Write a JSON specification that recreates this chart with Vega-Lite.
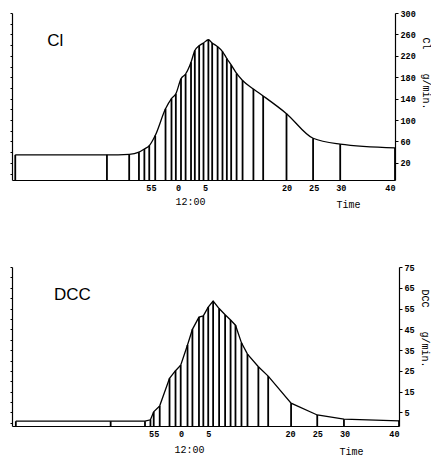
{
  "$schema": "https://vega.github.io/schema/vega-lite/v6.json",
  "background": "white",
  "padding": {"left": 9, "top": 9, "right": 0, "bottom": 0},
  "spacing": 54,
  "datasets": {
    "cl": [
      {"t": -30.0, "v": 35}, {"t": -13.1, "v": 35}, {"t": -9.0, "v": 36}, {"t": -7.2, "v": 40},
      {"t": -6.2, "v": 46}, {"t": -5.3, "v": 52}, {"t": -4.2, "v": 71}, {"t": -2.3, "v": 121},
      {"t": -1.2, "v": 140}, {"t": -0.4, "v": 149}, {"t": 0.55, "v": 177}, {"t": 1.4, "v": 186},
      {"t": 2.4, "v": 208}, {"t": 3.1, "v": 230}, {"t": 3.9, "v": 239}, {"t": 4.7, "v": 244},
      {"t": 5.6, "v": 250}, {"t": 6.3, "v": 244}, {"t": 7.3, "v": 237}, {"t": 8.2, "v": 228},
      {"t": 9.0, "v": 215}, {"t": 9.8, "v": 203}, {"t": 10.8, "v": 187}, {"t": 11.9, "v": 174},
      {"t": 13.9, "v": 158}, {"t": 15.7, "v": 145}, {"t": 20.0, "v": 112}, {"t": 24.9, "v": 66},
      {"t": 29.9, "v": 55}, {"t": 40, "v": 48}
    ],
    "dcc": [
      {"t": -30.3, "v": 0.8}, {"t": -12.9, "v": 0.8}, {"t": -6.6, "v": 0.8}, {"t": -5.6, "v": 1.5},
      {"t": -5.0, "v": 5.3}, {"t": -3.9, "v": 8.2}, {"t": -2.1, "v": 21.4}, {"t": -1.0, "v": 25.1},
      {"t": -0.05, "v": 27.8}, {"t": 1.2, "v": 37.5}, {"t": 2.1, "v": 45}, {"t": 3.3, "v": 50.9},
      {"t": 4.1, "v": 51.5}, {"t": 5.0, "v": 55.7}, {"t": 5.9, "v": 58.6}, {"t": 7.0, "v": 55},
      {"t": 8.1, "v": 52}, {"t": 9.1, "v": 49.5}, {"t": 10.0, "v": 47}, {"t": 11.1, "v": 38.5},
      {"t": 12.2, "v": 33.1}, {"t": 14.2, "v": 27}, {"t": 16.0, "v": 22.5}, {"t": 20.2, "v": 9.5},
      {"t": 25.0, "v": 3.8}, {"t": 29.9, "v": 1.8}, {"t": 40, "v": 1.0}
    ]
  },
  "vconcat": [
    {
      "width": 383,
      "height": 167,
      "layer": [
        {
          "data": {"name": "cl"},
          "mark": {"type": "rule", "color": "black", "strokeWidth": 1.8},
          "encoding": {
            "x": {"field": "t", "type": "quantitative",
              "scale": {"domain": [-30.6, 40], "nice": false, "zero": false},
              "axis": {"orient": "bottom", "values": [-5, 0, 5, 20, 25, 30, 40],
                "labelExpr": "datum.value < 0 ? datum.value + 60 : datum.value",
                "title": "12:00", "titleX": 178, "titleY": 21, "titleAlign": "center", "titleBaseline": "middle",
                "grid": false, "ticks": false, "labelPadding": 3}},
            "y": {"field": "v", "type": "quantitative",
              "scale": {"domain": [-12, 300], "nice": false, "zero": false},
              "axis": {"orient": "right", "values": [20, 60, 100, 140, 180, 220, 260, 300],
                "title": "Cl\u00a0\u00a0\u00a0\u00a0g/min.", "titleY": 60, "titlePadding": 5, "grid": false, "tickSize": 3}},
            "y2": {"datum": -12}
          }
        },
        {
          "data": {"name": "cl"},
          "mark": {"type": "line", "color": "black", "strokeWidth": 1.3, "interpolate": "monotone"},
          "encoding": {
            "x": {"field": "t", "type": "quantitative",
              "axis": {"orient": "bottom", "labels": false, "ticks": false, "domain": false, "grid": false,
                "title": "Time", "titleX": 336, "titleY": 24, "titleAlign": "center", "titleBaseline": "middle"}},
            "y": {"field": "v", "type": "quantitative",
              "axis": {"orient": "left", "labels": false, "tickSize": 2, "grid": false, "title": null, "tickCount": 20}}
          }
        },
        {
          "data": {"values": [{"label": "Cl", "t": -24.1, "v": 248}]},
          "mark": {"type": "text", "align": "left", "baseline": "middle", "fontSize": 17, "font": "Liberation Sans"},
          "encoding": {
            "x": {"field": "t", "type": "quantitative", "axis": null},
            "y": {"field": "v", "type": "quantitative", "axis": null},
            "text": {"field": "label"}
          }
        }
      ],
      "resolve": {"axis": {"x": "independent", "y": "independent"}}
    },
    {
      "width": 387,
      "height": 159,
      "layer": [
        {
          "data": {"name": "dcc"},
          "mark": {"type": "rule", "color": "black", "strokeWidth": 1.8},
          "encoding": {
            "x": {"field": "t", "type": "quantitative",
              "scale": {"domain": [-31, 40], "nice": false, "zero": false},
              "axis": {"orient": "bottom", "values": [-5, 0, 5, 20, 25, 30, 40],
                "labelExpr": "datum.value < 0 ? datum.value + 60 : datum.value",
                "title": "12:00", "titleX": 177, "titleY": 23, "titleAlign": "center", "titleBaseline": "middle",
                "grid": false, "ticks": false, "labelPadding": 3}},
            "y": {"field": "v", "type": "quantitative",
              "scale": {"domain": [-1.5, 75], "nice": false, "zero": false},
              "axis": {"orient": "right", "values": [5, 15, 25, 35, 45, 55, 65, 75],
                "title": "DCC\u00a0\u00a0\u00a0\u00a0g/min.", "titleY": 61, "titlePadding": 5, "grid": false, "tickSize": 3}},
            "y2": {"datum": -1.5}
          }
        },
        {
          "data": {"name": "dcc"},
          "mark": {"type": "line", "color": "black", "strokeWidth": 1.3, "interpolate": "linear"},
          "encoding": {
            "x": {"field": "t", "type": "quantitative",
              "axis": {"orient": "bottom", "labels": false, "ticks": false, "domain": false, "grid": false,
                "title": "Time", "titleX": 339, "titleY": 25, "titleAlign": "center", "titleBaseline": "middle"}},
            "y": {"field": "v", "type": "quantitative",
              "axis": {"orient": "left", "labels": false, "tickSize": 2, "grid": false, "title": null, "tickCount": 20}}
          }
        },
        {
          "data": {"values": [{"label": "DCC", "t": -23.3, "v": 61.6}]},
          "mark": {"type": "text", "align": "left", "baseline": "middle", "fontSize": 17, "font": "Liberation Sans"},
          "encoding": {
            "x": {"field": "t", "type": "quantitative", "axis": null},
            "y": {"field": "v", "type": "quantitative", "axis": null},
            "text": {"field": "label"}
          }
        }
      ],
      "resolve": {"axis": {"x": "independent", "y": "independent"}}
    }
  ],
  "config": {
    "view": {"stroke": null},
    "axis": {
      "labelFont": "Liberation Mono", "labelFontSize": 8.5, "labelColor": "black", "labelFontWeight": "bold",
      "titleFont": "Liberation Mono", "titleFontSize": 10, "titleFontWeight": "normal", "titleColor": "black",
      "domainColor": "black", "tickColor": "black", "domainWidth": 1.2
    }
  }
}
